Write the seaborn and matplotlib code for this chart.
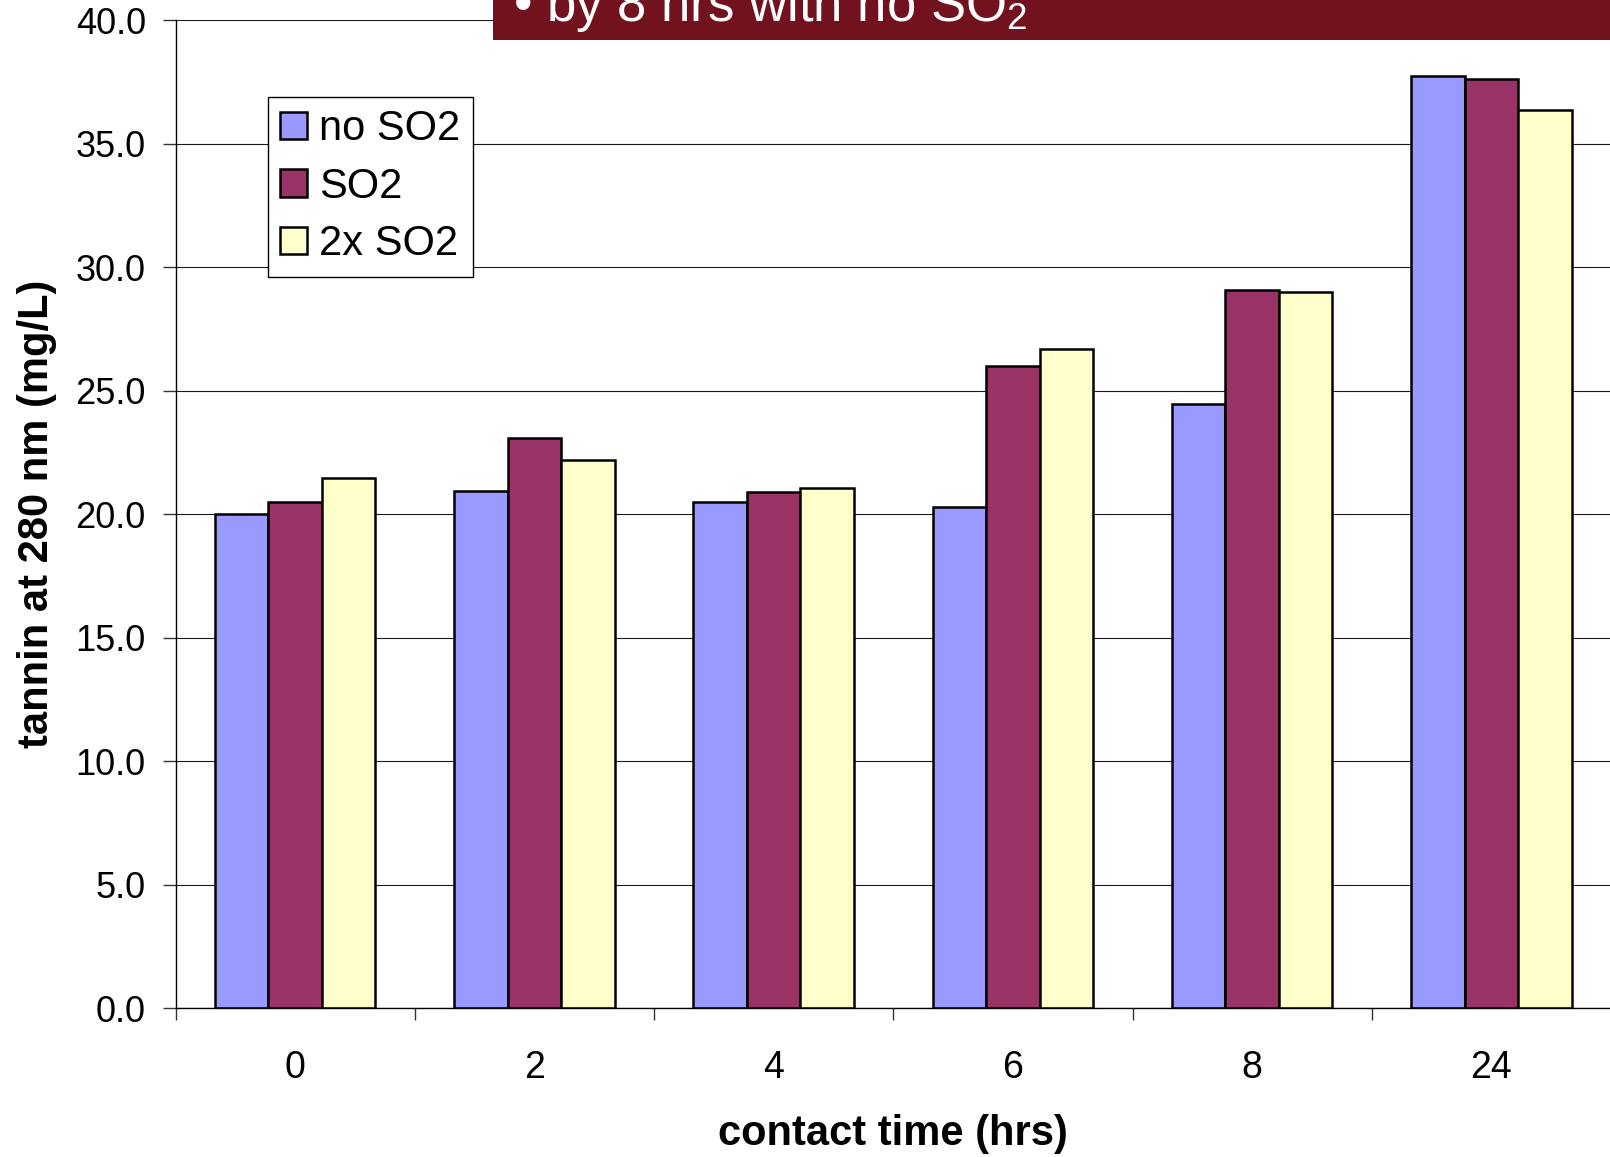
import matplotlib
matplotlib.use("Agg")
import matplotlib.pyplot as plt
from matplotlib.patches import Rectangle
import numpy as np
import pandas as pd
import seaborn as sns

# Tannin extracted at 280 nm vs skin contact time, by sulfite treatment
contact_hours = ["0", "2", "4", "6", "8", "24"]
series_names = ["no SO2", "SO2", "2x SO2"]
no_so2 = [20.0, 20.95, 20.5, 20.27, 24.46, 37.74]
so2 = [20.5, 23.1, 20.9, 26.0, 29.09, 37.63]
so2_double = [21.45, 22.2, 21.05, 26.67, 29.0, 36.35]
bar_colors = ["#9999FF", "#993366", "#FFFFCC"]
y_ticks = [0, 5, 10, 15, 20, 25, 30, 35, 40]

sns.set_style("white")
plt.rcParams["font.family"] = ["Liberation Sans", "DejaVu Sans"]
plt.rcParams["mathtext.fontset"] = "custom"
plt.rcParams["mathtext.rm"] = "Liberation Sans"
plt.rcParams["mathtext.it"] = "Liberation Sans:italic"
plt.rcParams["mathtext.bf"] = "Liberation Sans:bold"
plt.rcParams["text.color"] = "black"
plt.rcParams["axes.labelcolor"] = "black"
plt.rcParams["xtick.labelcolor"] = "black"
plt.rcParams["ytick.labelcolor"] = "black"

df = pd.DataFrame({
    "time": contact_hours * 3,
    "series": np.repeat(series_names, len(contact_hours)),
    "tannin": no_so2 + so2 + so2_double,
})

W, H = 1610, 1157
fig = plt.figure(figsize=(W / 100, H / 100), dpi=100)
left, right, top, bottom = 175.5, 1611.0, 20.0, 1008.3
ax = fig.add_axes([left / W, (H - bottom) / H, (right - left) / W, (bottom - top) / H])

sns.barplot(data=df, x="time", y="tannin", hue="series", order=contact_hours,
            hue_order=series_names, palette=bar_colors, width=0.671, gap=0,
            errorbar=None, edgecolor="black", linewidth=1.8, saturation=1,
            ax=ax)

ax.set_xlim(-0.5, len(contact_hours) - 0.5)
ax.set_ylim(0, 40)
ax.set_yticks(y_ticks)
ax.set_yticklabels([f"{t:.1f}" for t in y_ticks])
ax.yaxis.grid(True, color="#1a1a1a", linewidth=0.8)
ax.xaxis.grid(False)
ax.set_axisbelow(True)

for side in ["top", "right"]:
    ax.spines[side].set_visible(False)
for side in ["left", "bottom"]:
    ax.spines[side].set_color("black")
    ax.spines[side].set_linewidth(1.0)

# category labels centred, tick marks on category boundaries
ax.set_xticks(range(len(contact_hours)))
ax.set_xticklabels(contact_hours)
ax.set_xticks(np.arange(-0.5, len(contact_hours)), minor=True)
ax.tick_params(axis="x", which="major", length=0, pad=30, labelsize=27,
               labelcolor="black")
ax.tick_params(axis="x", which="minor", length=8.6, width=1.0, color="#333333",
               direction="out", bottom=True)
ax.tick_params(axis="y", which="major", length=9.4, width=1.0, color="#333333",
               direction="out", left=True, pad=12, labelsize=26,
               labelcolor="black")

ax.set_xlabel("contact time (hrs)", fontsize=30, fontweight="bold")
ax.xaxis.set_label_coords(0.5, (bottom - 1145) / (bottom - top))
ax.xaxis.label.set_va("baseline")
ax.set_ylabel("tannin at 280 nm (mg/L)", fontsize=30, fontweight="bold")
ax.yaxis.set_label_coords((57 - left) / (right - left), 0.5)

old = ax.get_legend()
handles = old.legend_handles
labels = [t.get_text() for t in old.get_texts()]
old.remove()
leg = ax.legend(handles, labels, loc="upper left",
                bbox_to_anchor=((267.7 - left) / (right - left), (bottom - 96.7) / (bottom - top)),
                borderaxespad=0, fontsize=30, frameon=True, fancybox=False,
                shadow=False, framealpha=1, edgecolor="black",
                handlelength=0.65, handleheight=0.65, handletextpad=0.28,
                borderpad=0.3, labelspacing=0.42)
leg.get_frame().set_linewidth(1.0)
for h in leg.legend_handles:
    h.set_edgecolor("black")
    h.set_linewidth(1.8)

# slide banner across the top
fig.add_artist(Rectangle((493 / W, 1 - 40 / H), 1 - 493 / W, 40 / H,
                         transform=fig.transFigure, facecolor="#72121F",
                         edgecolor="none", zorder=10))
fig.text(513 / W, 1 - 20.5 / H, "• by 8 hrs with no SO$_\\mathregular{2}$",
         color="white", fontsize=38, va="baseline", ha="left", zorder=11)

fig.savefig("out.png", dpi=100)
